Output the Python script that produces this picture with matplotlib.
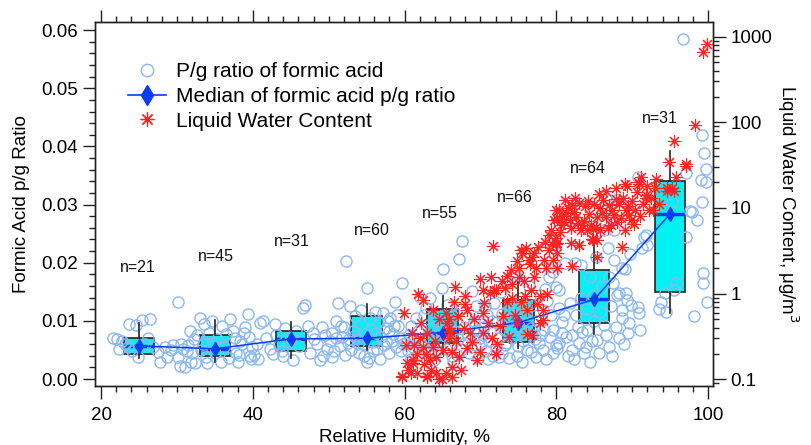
import matplotlib
matplotlib.use("Agg")
import matplotlib.pyplot as plt
from matplotlib.lines import Line2D
from matplotlib.ticker import MultipleLocator, LogLocator, NullFormatter, FormatStrFormatter, FuncFormatter

plt.rcParams['font.family'] = ['Liberation Sans', 'DejaVu Sans']

# ---------------- data ----------------
rh_pg = [
    21.6, 22.4, 22.8, 23.2, 23.7, 24.6, 25.4, 26.4, 24.9, 25.8, 26.8, 27.8, 28.4, 29.5, 28.7, 27.5, 24.1, 22.1, 29.2, 26.2, 23.5,
    30.1, 30.2, 30.4, 31.1, 31.7, 33.0, 32.4, 30.8, 31.5, 32.0, 32.6, 33.4, 33.8, 34.2, 34.6, 35.3, 35.8, 36.2, 36.5, 37.0,
    37.4, 37.8, 38.0, 38.3, 38.6, 39.0, 39.3, 39.6, 39.8, 38.9, 37.6, 36.8, 35.0, 34.0, 33.2, 31.9, 30.6, 39.5, 38.2, 36.0,
    34.8, 33.6, 32.2, 31.3, 39.9,
    40.2, 40.5, 40.9, 41.3, 41.8, 42.2, 42.6, 43.0, 43.4, 43.9, 44.3, 44.8, 45.3, 45.7, 46.1, 46.6, 46.9, 47.3, 47.6, 48.0,
    48.4, 48.8, 49.1, 49.5, 49.8, 40.7, 42.9, 44.0, 45.0, 47.9, 49.3,
    50.2, 50.5, 50.7, 51.0, 51.2, 51.5, 51.8, 52.0, 52.3, 52.5, 52.8, 53.0, 53.2, 53.5, 53.7, 54.0, 54.2, 54.5, 54.8, 55.1,
    55.1, 55.3, 55.6, 55.9, 56.1, 56.4, 56.6, 56.9, 57.1, 57.3, 57.6, 57.9, 58.1, 58.3, 58.5, 58.7, 58.9, 59.2, 59.4, 59.6,
    59.8, 50.4, 51.6, 52.2, 53.4, 54.3, 55.8, 56.8, 57.5, 58.0, 59.0, 53.9, 52.7, 55.4, 56.2, 57.8, 59.5, 50.9, 54.6, 58.6,
    60.2, 60.4, 60.6, 60.9, 61.1, 61.3, 61.6, 61.8, 62.0, 62.2, 62.5, 62.7, 63.0, 63.3, 63.5, 63.7, 64.0, 64.2, 64.5, 64.9,
    65.1, 65.3, 65.5, 65.8, 66.0, 66.2, 66.5, 66.8, 67.0, 67.2, 67.4, 67.6, 67.8, 68.0, 68.3, 68.5, 68.9, 69.1, 69.3, 69.5,
    69.7, 69.9, 60.8, 62.8, 63.9, 64.7, 65.6, 66.4, 67.5, 68.7, 69.4, 61.5, 63.2, 66.9, 68.1,
    70.1, 70.3, 70.5, 70.7, 70.9, 71.1, 71.3, 71.6, 71.8, 72.0, 72.2, 72.4, 72.7, 72.9, 73.1, 73.4, 73.6, 73.8, 74.0, 74.2,
    74.5, 74.7, 74.9, 75.1, 75.3, 75.5, 75.7, 75.9, 76.1, 76.4, 76.6, 76.7, 77.0, 77.2, 77.5, 77.7, 77.9, 78.2, 78.2, 78.4,
    78.6, 78.8, 79.0, 79.2, 79.5, 79.5, 79.8, 79.9, 70.6, 71.5, 72.5, 73.3, 74.4, 74.8, 75.6, 76.3, 77.3, 78.0, 79.3, 71.0,
    73.9, 76.8, 78.5, 75.0, 72.8, 79.6,
    80.0, 80.1, 80.4, 80.4, 80.4, 80.7, 81.1, 81.3, 81.6, 82.1, 82.1, 82.4, 82.6, 83.0, 83.3, 83.4, 83.7, 84.1, 84.4, 84.7,
    85.0, 85.4, 85.8, 86.3, 86.3, 86.7, 86.9, 87.2, 87.5, 87.6, 87.6, 87.8, 88.0, 88.3, 88.6, 88.6, 88.7, 89.0, 89.2, 89.3,
    89.6, 89.9, 81.8, 82.8, 83.9, 84.9, 85.6, 86.0, 86.5, 87.0, 87.9, 88.9, 89.4, 81.0, 82.3, 83.2, 84.5, 85.2, 86.8, 88.2,
    89.7, 80.8, 84.0, 87.4,
    90.7, 90.9, 91.0, 91.3, 91.6, 91.8, 90.7, 92.0, 93.8, 94.3, 95.2, 95.5, 96.7, 97.1, 97.1, 97.6, 97.9, 98.2, 98.5, 99.1,
    99.2, 99.2, 99.3, 99.3, 99.5, 99.7, 99.7, 99.9, 94.5, 95.8, 93.5,
]
pg_ratio = [
    0.0070, 0.0052, 0.0066, 0.0060, 0.0095, 0.0093, 0.0101, 0.0103, 0.0038, 0.0061, 0.0055, 0.0029, 0.0055, 0.0058, 0.0038, 0.0046, 0.0048, 0.0068, 0.0050, 0.0070, 0.0055,
    0.0038, 0.0132, 0.0022, 0.0021, 0.0082, 0.0105, 0.0028, 0.0052, 0.0058, 0.0045, 0.0075, 0.0060, 0.0038, 0.0080, 0.0100, 0.0068, 0.0030, 0.0055, 0.0078, 0.0103,
    0.0082, 0.0045, 0.0030, 0.0065, 0.0060, 0.0090, 0.0112, 0.0040, 0.0035, 0.0080, 0.0070, 0.0036, 0.0044, 0.0028, 0.0050, 0.0030, 0.0060, 0.0072, 0.0042, 0.0092,
    0.0062, 0.0094, 0.0068, 0.0048, 0.0055,
    0.0042, 0.0060, 0.0096, 0.0099, 0.0070, 0.0052, 0.0043, 0.0075, 0.0058, 0.0048, 0.0087, 0.0064, 0.0033, 0.0082, 0.0056, 0.0122, 0.0127, 0.0092, 0.0045, 0.0068,
    0.0060, 0.0033, 0.0090, 0.0075, 0.0052, 0.0035, 0.0095, 0.0040, 0.0070, 0.0080, 0.0040,
    0.0065, 0.0080, 0.0048, 0.0100, 0.0130, 0.0057, 0.0072, 0.0090, 0.0203, 0.0062, 0.0125, 0.0050, 0.0083, 0.0108, 0.0068, 0.0045, 0.0094, 0.0060, 0.0078, 0.0156,
    0.0029, 0.0036, 0.0085, 0.0064, 0.0115, 0.0052, 0.0098, 0.0072, 0.0113, 0.0058, 0.0088, 0.0045, 0.0105, 0.0066, 0.0078, 0.0132, 0.0055, 0.0092, 0.0070, 0.0165,
    0.0060, 0.0038, 0.0092, 0.0042, 0.0074, 0.0118, 0.0048, 0.0035, 0.0065, 0.0082, 0.0110, 0.0060, 0.0068, 0.0105, 0.0080, 0.0100, 0.0048, 0.0070, 0.0040, 0.0092,
    0.0062, 0.0048, 0.0075, 0.0092, 0.0055, 0.0068, 0.0040, 0.0083, 0.0141, 0.0060, 0.0110, 0.0050, 0.0072, 0.0139, 0.0088, 0.0058, 0.0045, 0.0100, 0.0066, 0.0157,
    0.0189, 0.0074, 0.0052, 0.0095, 0.0060, 0.0040, 0.0082, 0.0112, 0.0068, 0.0206, 0.0050, 0.0237, 0.0090, 0.0062, 0.0075, 0.0045, 0.0151, 0.0100, 0.0058, 0.0085,
    0.0036, 0.0070, 0.0035, 0.0122, 0.0033, 0.0085, 0.0128, 0.0030, 0.0120, 0.0055, 0.0125, 0.0105, 0.0048, 0.0042, 0.0105,
    0.0060, 0.0075, 0.0090, 0.0048, 0.0110, 0.0066, 0.0082, 0.0040, 0.0130, 0.0055, 0.0098, 0.0070, 0.0150, 0.0045, 0.0085, 0.0062, 0.0120, 0.0036, 0.0104, 0.0070,
    0.0182, 0.0175, 0.0056, 0.0092, 0.0140, 0.0030, 0.0078, 0.0112, 0.0050, 0.0160, 0.0088, 0.0046, 0.0128, 0.0068, 0.0100, 0.0062, 0.0145, 0.0119, 0.0050, 0.0084,
    0.0035, 0.0135, 0.0175, 0.0072, 0.0184, 0.0084, 0.0196, 0.0058, 0.0125, 0.0100, 0.0038, 0.0058, 0.0128, 0.0040, 0.0065, 0.0098, 0.0038, 0.0075, 0.0110, 0.0035,
    0.0090, 0.0075, 0.0155, 0.0120, 0.0112, 0.0045,
    0.0158, 0.0053, 0.0062, 0.0122, 0.0153, 0.0098, 0.0199, 0.0072, 0.0040, 0.0076, 0.0050, 0.0199, 0.0110, 0.0062, 0.0196, 0.0081, 0.0045, 0.0084, 0.0030, 0.0065,
    0.0100, 0.0067, 0.0115, 0.0093, 0.0256, 0.0308, 0.0175, 0.0125, 0.0165, 0.0204, 0.0256, 0.0308, 0.0145, 0.0148, 0.0191, 0.0119, 0.0105, 0.0190, 0.0148, 0.0136,
    0.0096, 0.0127, 0.0130, 0.0090, 0.0055, 0.0142, 0.0045, 0.0160, 0.0075, 0.0055, 0.0090, 0.0060, 0.0080, 0.0110, 0.0035, 0.0140, 0.0175, 0.0210, 0.0225, 0.0070,
    0.0215, 0.0080, 0.0120, 0.0040,
    0.0124, 0.0113, 0.0084, 0.0225, 0.0244, 0.0247, 0.0347, 0.0230, 0.0132, 0.0148, 0.0304, 0.0153, 0.0584, 0.0354, 0.0244, 0.0289, 0.0287, 0.0108, 0.0273, 0.0342,
    0.0419, 0.0304, 0.0182, 0.0165, 0.0388, 0.0362, 0.0338, 0.0132, 0.0116, 0.0165, 0.0120,
]

rh_lwc = [
    59.6, 59.7, 60.3, 60.9, 61.1, 61.1, 61.6, 61.7, 62.4, 63.0, 63.0, 63.3, 63.7, 64.2, 64.2, 64.6, 64.9, 65.0, 66.2, 66.2,
    66.3, 67.2, 68.2, 68.6, 69.5, 69.9, 70.3, 62.0, 62.8, 63.5, 64.0, 65.5, 65.8, 66.8, 67.5, 67.8, 68.9, 60.5, 61.3, 62.6,
    59.9, 61.8, 62.4, 65.5, 65.6, 65.8, 66.0, 65.9, 66.6, 67.9, 68.2, 69.9, 70.3, 70.3, 70.5, 71.2, 71.4, 71.6, 71.8, 72.1,
    72.1, 72.2, 73.2, 73.8, 74.1, 74.5, 75.1, 75.1, 75.4, 75.5, 75.8, 76.0, 76.1, 76.2, 76.4, 76.8, 76.8, 77.1, 77.3, 77.8,
    78.2, 78.2, 78.4, 78.7, 79.0, 79.4, 79.5, 80.0, 80.0, 79.3, 79.7, 80.0, 80.4, 80.6, 80.1, 81.3, 82.1, 82.6, 83.4, 84.6,
    85.4, 85.7, 86.6, 87.4, 87.9, 89.2, 89.9, 90.0, 90.7, 91.2, 91.8, 92.2, 88.6, 85.4, 84.7, 83.0, 82.1, 85.3,
    80.8, 81.0, 81.5, 81.8, 82.0, 82.3, 82.8, 83.0, 83.2, 83.6, 83.8, 84.0, 84.3, 84.8, 85.0, 85.2, 85.8, 86.0, 86.2, 86.8,
    87.0, 87.2, 87.6, 88.0, 88.2, 88.5, 88.8, 89.0, 89.5, 89.6, 90.2, 90.4, 90.6, 91.0, 91.4, 92.0, 92.5, 93.0, 93.2, 81.2,
    82.5, 84.2, 85.6, 86.5, 87.8, 89.0, 90.9, 89.3, 91.8, 80.5, 79.0, 78.5, 77.6, 77.0, 76.5, 74.8, 74.0, 73.5, 72.8,
    94.8, 97.1, 95.8, 94.6, 95.5, 95.5, 97.1, 98.3, 99.3, 99.8, 95.3, 94.6, 92.7, 93.5,
    71.0, 71.5, 72.6, 73.0, 73.5, 74.2, 74.8, 75.3, 75.9, 76.6, 77.4, 77.9, 78.8, 69.2, 68.0, 67.0, 66.5, 64.5, 63.8, 63.0,
    62.2, 61.0, 60.2, 80.1, 80.1, 80.1, 82.0, 83.0, 84.9,
]
lwc = [
    0.105, 0.11, 0.155, 0.12, 0.17, 0.157, 0.20, 0.117, 0.24, 0.11, 0.105, 0.17, 0.24, 0.117, 0.18, 0.10, 0.10, 0.22, 0.105, 0.14,
    0.21, 0.18, 0.23, 0.35, 0.17, 0.21, 0.35, 0.30, 0.20, 0.13, 0.28, 0.12, 0.30, 0.28, 0.13, 0.40, 0.27, 0.13, 0.25, 0.15,
    0.59, 1.0, 0.85, 0.59, 0.45, 0.40, 0.36, 0.50, 1.18, 0.75, 0.64, 1.5, 1.1, 0.59, 0.77, 1.03, 1.55, 3.56, 1.1, 1.1,
    0.20, 0.26, 1.16, 0.31, 1.3, 0.56, 1.55, 2.0, 3.2, 3.0, 1.4, 3.4, 0.64, 0.34, 2.5, 0.33, 2.7, 1.55, 2.0, 0.95,
    0.49, 0.64, 2.5, 2.0, 3.2, 3.8, 2.5, 3.8, 4.5, 5.5, 7.2, 9.4, 9.5, 6.3, 7.5, 8.7, 10.7, 7.8, 6.3, 6.3,
    7.8, 9.9, 7.8, 9.4, 12.9, 9.4, 7.2, 12.1, 19.9, 22.8, 14.1, 9.4, 3.5, 2.7, 4.4, 3.7, 2.1, 4.2,
    8.0, 6.8, 10.0, 7.2, 5.8, 9.0, 6.6, 11.5, 5.5, 7.0, 10.5, 5.6, 8.4, 5.7, 11.0, 6.0, 5.6, 8.8, 12.5, 5.9,
    10.8, 6.4, 8.2, 6.8, 11.0, 7.6, 13.0, 5.5, 10.5, 8.2, 6.5, 9.6, 15.5, 8.0, 11.0, 18.0, 13.0, 17.0, 22.0, 12.5,
    13.0, 12.0, 14.5, 16.0, 17.0, 19.0, 19.0, 18.0, 13.0, 5.2, 4.8, 4.0, 3.5, 3.0, 2.2, 2.4, 1.9, 1.6, 1.4,
    34, 31, 22.7, 16, 16, 61, 33, 92, 660, 830, 17, 17, 9.5, 11,
    0.45, 0.30, 0.42, 0.55, 0.80, 0.90, 0.45, 0.80, 0.95, 1.1, 0.75, 0.45, 1.0, 0.50, 0.95, 0.55, 0.80, 0.50, 0.65, 0.35,
    0.45, 0.35, 0.25, 3.9, 3.0, 2.0, 3.9, 3.7, 4.2,
]

box_rh = [25, 35, 45, 55, 65, 75, 85, 95]
box_q1 = [0.0043, 0.0040, 0.0048, 0.0057, 0.0062, 0.0064, 0.0097, 0.0149]
box_q3 = [0.0070, 0.0076, 0.0082, 0.0108, 0.0121, 0.0136, 0.0188, 0.0341]
box_med = [0.0057, 0.0052, 0.0069, 0.0070, 0.0080, 0.0097, 0.0137, 0.0284]
box_lo = [0.0036, 0.0029, 0.0037, 0.0050, 0.0043, 0.0054, 0.0077, 0.0114]
box_hi = [0.0097, 0.0101, 0.0098, 0.0129, 0.0143, 0.0167, 0.0239, 0.0393]
box_n = ["n=21", "n=45", "n=31", "n=60", "n=55", "n=66", "n=64", "n=31"]
n_label_x = [24.8, 35.2, 45.2, 55.7, 64.6, 74.6, 84.1, 93.6]
n_label_y = [0.0191, 0.0211, 0.0236, 0.0256, 0.0285, 0.0313, 0.0362, 0.0448]

# ---------------- figure ----------------
fig = plt.figure(figsize=(8.12, 4.45), dpi=100)
ax = fig.add_axes([95 / 812, 1 - 386 / 445, (713 - 95) / 812, (386 - 22) / 445])
ax2 = ax.twinx()

circ_col = '#8ab8f2'
red = '#ff2222'
blue = '#0a3cf5'
cyan = '#00f2f2'

stats = []
for i in range(len(box_rh)):
    stats.append(dict(med=box_med[i], q1=box_q1[i], q3=box_q3[i],
                      whislo=box_lo[i], whishi=box_hi[i], fliers=[]))
bp = ax.bxp(stats, positions=box_rh, widths=4, patch_artist=True, showcaps=False,
            showfliers=False, manage_ticks=False,
            boxprops=dict(facecolor=cyan, edgecolor='#222222', linewidth=1.2),
            medianprops=dict(color=blue, linewidth=2.5),
            whiskerprops=dict(color='#222222', linewidth=1.2), zorder=1)
for w in bp['whiskers']:
    w.set_zorder(2.5)

ax.plot(rh_pg, pg_ratio, linestyle='none', marker='o', markersize=8,
        markerfacecolor='none', markeredgecolor=circ_col, markeredgewidth=1.0, zorder=2)
ax.plot(box_rh, box_med, color=blue, linewidth=1.1, marker='d', markersize=7.5,
        markerfacecolor=blue, markeredgecolor=blue, zorder=3)

ax2.plot(rh_lwc, lwc, linestyle='none', marker=(8, 2, 0), markersize=9,
         markeredgecolor=red, markeredgewidth=0.8, color=red)

for x, y, t in zip(n_label_x, n_label_y, box_n):
    ax.text(x, y, t, ha='center', va='center', fontsize=11.5, color='#111111')

# axes styling
ax.set_xlim(19.2, 100.65)
ax.set_ylim(-0.0012, 0.0614)
ax2.set_yscale('log')
ax2.set_ylim(0.0835, 1484)

ax.xaxis.set_major_locator(MultipleLocator(20))
ax.xaxis.set_minor_locator(MultipleLocator(2))
ax.yaxis.set_major_locator(MultipleLocator(0.01))
ax.yaxis.set_minor_locator(MultipleLocator(0.002))
ax.yaxis.set_major_formatter(FormatStrFormatter('%.2f'))
ax2.yaxis.set_major_locator(LogLocator(base=10, numticks=10))
ax2.yaxis.set_minor_locator(LogLocator(base=10, subs=range(2, 10), numticks=10))
ax2.yaxis.set_minor_formatter(NullFormatter())
ax2.yaxis.set_major_formatter(FuncFormatter(lambda v, p: ('%g' % v)))

ax.tick_params(axis='both', which='major', direction='out', length=9, width=1.0,
               labelsize=13.5, colors='#222222', labelcolor='black')
ax.tick_params(axis='both', which='minor', direction='out', length=4.5, width=1.0, colors='#222222')
ax.tick_params(axis='x', which='both', top=True)
ax.tick_params(axis='x', which='major', pad=6)
ax2.tick_params(axis='y', which='major', direction='out', length=9, width=1.0,
                labelsize=13.5, colors='#222222', labelcolor='black')
ax2.tick_params(axis='y', which='minor', direction='out', length=4.5, width=1.0, colors='#222222')

for a in (ax, ax2):
    for s in a.spines.values():
        s.set_color('#222222')
        s.set_linewidth(1.0)

ax.set_ylabel('Formic Acid p/g Ratio', fontsize=13.5, labelpad=8)
ax2.set_ylabel('Liquid Water Content, μg/m$^3$', fontsize=13.5, rotation=270, labelpad=20)
fig.text(405 / 812, 1 - 437 / 445, 'Relative Humidity, %', ha='center', va='center', fontsize=13.5)

handles = [
    Line2D([], [], linestyle='none', marker='o', markersize=9, markerfacecolor='none',
           markeredgecolor=circ_col, markeredgewidth=1.0),
    Line2D([], [], color=blue, linewidth=1.2, marker='d', markersize=10,
           markerfacecolor=blue, markeredgecolor=blue),
    Line2D([], [], linestyle='none', marker=(8, 2, 0), markersize=10,
           markeredgecolor=red, markeredgewidth=0.9),
]
labels = ['P/g ratio of formic acid', 'Median of formic acid p/g ratio', 'Liquid Water Content']
leg = ax2.legend(handles, labels, loc='upper left', bbox_to_anchor=(128 / 812, 1 - 62 / 445),
                 bbox_transform=fig.transFigure, frameon=False, fontsize=15,
                 handlelength=1.8, handletextpad=0.5, labelspacing=0.28,
                 borderpad=0, borderaxespad=0)

fig.savefig('out.png', dpi=100)
